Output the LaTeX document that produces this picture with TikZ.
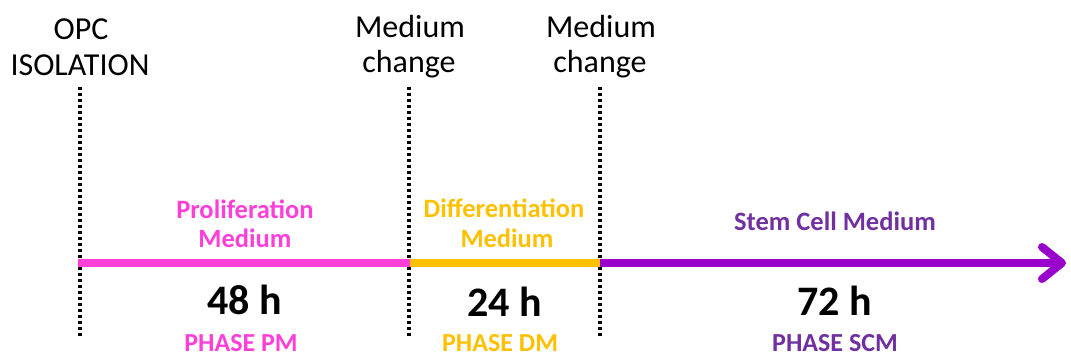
\documentclass[tikz,border=0pt]{standalone}
\usepackage{fontspec}
\setmainfont{Carlito}
\usetikzlibrary{arrows.meta}
\definecolor{pmcol}{HTML}{FF3FD7}
\definecolor{dmcol}{HTML}{FFC000}
\definecolor{scmline}{HTML}{9900CC}
\definecolor{scmtext}{HTML}{7030A0}
\begin{document}
\begin{tikzpicture}[x=1pt,y=-1pt,
  toplbl/.style={anchor=base, inner sep=0pt, font=\fontsize{32}{38}\selectfont},
  medlbl/.style={anchor=base, inner sep=0pt, font=\bfseries\fontsize{26.5}{31}\selectfont},
  hourlbl/.style={anchor=base, inner sep=0pt, font=\bfseries\fontsize{42}{50}\selectfont},
  phaselbl/.style={anchor=base, inner sep=0pt, text depth=0pt, font=\bfseries\fontsize{26}{31}\selectfont},
  vdots/.style={line width=3.5pt, dash pattern=on 3pt off 3pt},
  seg/.style={line width=8pt}]
\useasboundingbox (0,0) rectangle (1071,357);
% dotted markers
\coordinate (d0t) at (80,87);  \coordinate (d0b) at (80,336);
\coordinate (d1t) at (409,87); \coordinate (d1b) at (409,336);
\coordinate (d2t) at (600,87); \coordinate (d2b) at (600,336);
\draw[vdots] (d0t) -- (d0b);
\draw[vdots] (d1t) -- (d1b);
\draw[vdots] (d2t) -- (d2b);
% timeline
\coordinate (t0) at (78,263);
\coordinate (t1) at (410,263);
\coordinate (t2) at (600,263);
\coordinate (t3) at (1066,263);
\draw[seg, pmcol] (t0) -- (t1);
\draw[seg, dmcol] (t1) -- (t2);
\draw[seg, scmline, -{Straight Barb[length=20pt,width=32pt,round]}] (t2) -- (t3);
% top labels
\node[toplbl] (opc1) at (81,39) {OPC};
\node[toplbl] (opc2) at (80,75) {ISOLATION};
\node[toplbl] (mc1a) at (410,37) {Medium};
\node[toplbl] (mc1b) at (409,72) {change};
\node[toplbl] (mc2a) at (601,37) {Medium};
\node[toplbl] (mc2b) at (600,72) {change};
% medium labels
\node[medlbl, pmcol] (pma) at (245,218) {Proliferation};
\node[medlbl, pmcol] (pmb) at (245,247) {Medium};
\node[medlbl, dmcol] (dma) at (504,217) {Differentiation};
\node[medlbl, dmcol] (dmb) at (507,247) {Medium};
\node[medlbl, scmtext] (scm) at (835,230) {Stem Cell Medium};
% hours
\node[hourlbl] (h48) at (245,314) {48 h};
\node[hourlbl] (h24) at (505,316) {24 h};
\node[hourlbl] (h72) at (835,315) {72 h};
% phases
\node[phaselbl, pmcol] (ppm) at (241,351) {PHASE PM};
\node[phaselbl, dmcol] (pdm) at (500,351) {PHASE DM};
\node[phaselbl, scmtext] (pscm) at (835,351) {PHASE SCM};
\end{tikzpicture}
\end{document}
